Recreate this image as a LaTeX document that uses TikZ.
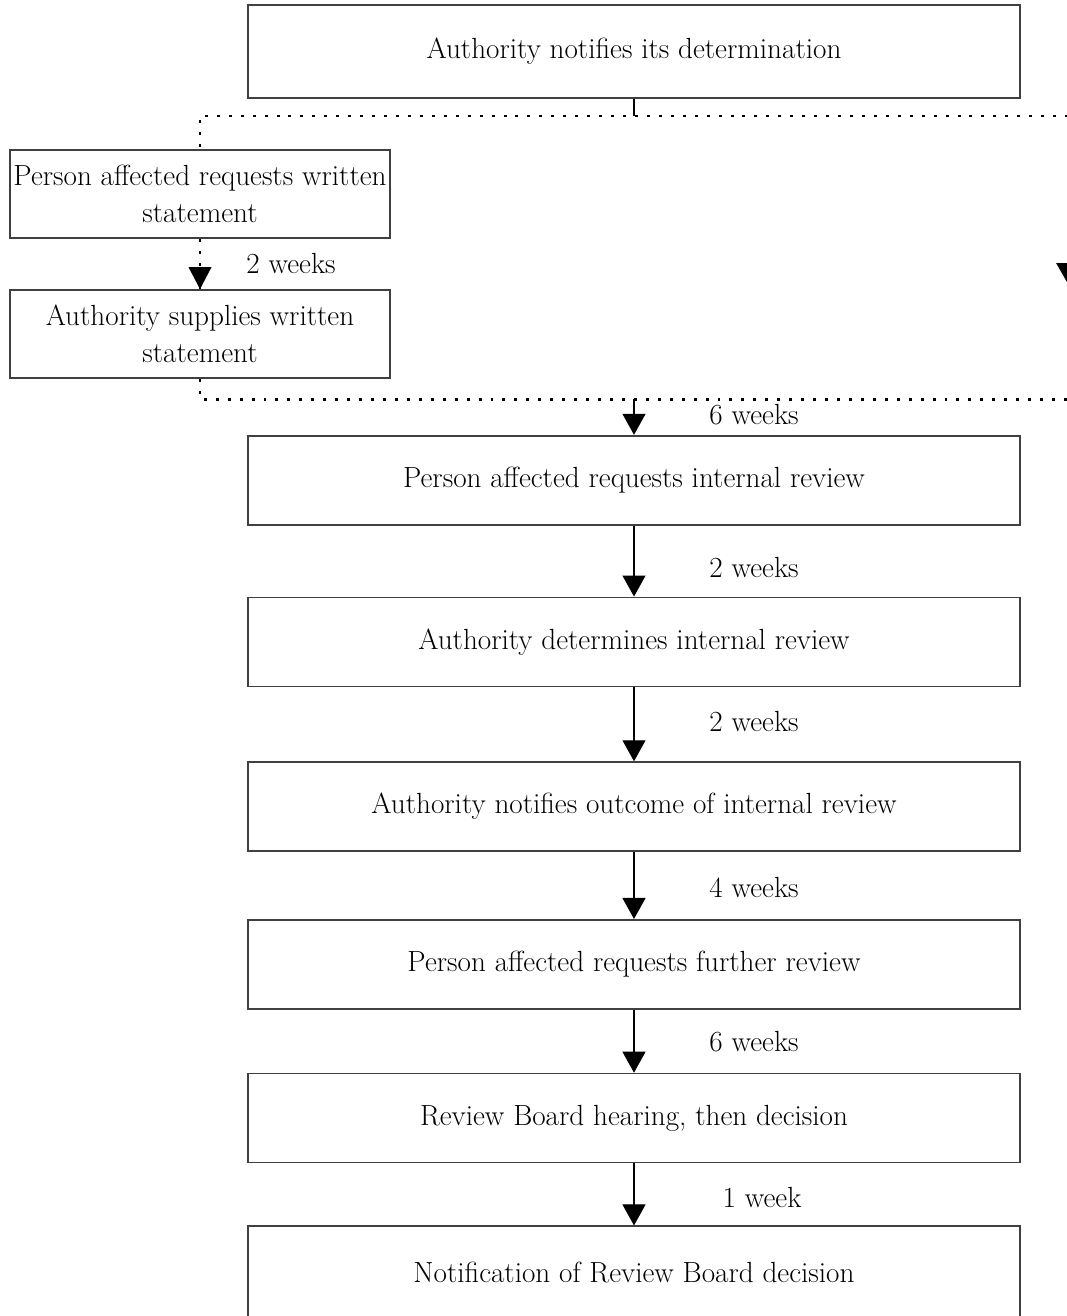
\documentclass[tikz,border=0pt]{standalone}
\usepackage{tikz}
\usetikzlibrary{arrows.meta, chains, positioning}
\usepackage{xcolor}

\begin{document}
\begin{tikzpicture}[
            x=0.02cm, y=-0.02cm,
            font=\fontsize{16.6}{21}\selectfont,
            node distance= 1.4cm,
            start chain = R going below,
            block/.style = {rectangle, draw=black!75, line width=1pt, minimum height=1.78cm, minimum width=15.44cm, align=center, on chain},
            sideblock/.style = {rectangle, draw=black!75, line width=1pt, minimum height=1.76cm, minimum width=7.6cm, inner xsep=1pt, align=center},
            weeks/.style = {inner sep=0pt},
            arrow/.style = {-{Triangle[width=4.6mm, length=4.2mm]}, line width=0.6pt},
            dots/.style = {line width=1.7pt, dash pattern=on 1.7pt off 5.1pt}]
            \useasboundingbox (0,0) rectangle (1066,1316);
            % nodes
            \node [block, minimum height=1.86cm] at (634,51.5) {Authority notifies its determination};   % R-1
            \node [block, below=6.72cm of R-1] {Person affected requests internal review};
            \node [block, below=1.42cm of R-2] {Authority determines internal review};
            \node [block, below=1.48cm of R-3] {Authority notifies outcome of internal review};
            \node [block, below=1.34cm of R-4] {Person affected requests further review};
            \node [block, below=1.26cm of R-5] {Review Board hearing, then decision};
            \node [block, below=1.24cm of R-6, minimum height=1.86cm] {Notification of Review Board decision};
            \node (L-1) [sideblock] at (200,194) {Person affected requests written\\statement};
            \node (L-2) [sideblock] at (200,334) {Authority supplies written\\statement};
            % branch lines
            \coordinate (tl) at (L-1.north |- 0,116);
            \coordinate (tr) at (1080,116);
            \coordinate (bl) at (L-2.south |- 0,399);
            \coordinate (br) at (1080,399);
            \coordinate (rt) at (1068,230);
            \coordinate (rb) at (1068,284);
            % Connections
            \draw [line width=0.6pt] (R-1.south) -- (R-1.south |- tl);
            \draw [dots] (tr) -- (tl) -- (L-1.north);
            \draw [dots] (L-1.south) -- (L-2.north);
            \fill (L-2.north) -- ++(-11.5,-22) -- ++(23,0) -- cycle;
            \draw [dots, -{Triangle[width=4.6mm, length=4.2mm]}] (rt) -- (rb);
            \draw [dots] (L-2.south) -- (bl) -- (br);
            \draw [arrow] (R-2.north |- bl) -- (R-2.north);
            \draw [arrow] (R-2.south) -- (R-3.north);
            \draw [arrow] (R-3.south) -- (R-4.north);
            \draw [arrow] (R-4.south) -- (R-5.north);
            \draw [arrow] (R-5.south) -- (R-6.north);
            \draw [arrow] (R-6.south) -- (R-7.north);
            % Text
            \node (w0) [weeks] at (291,263) {2 weeks};
            \node (w1) [weeks] at (754,415) {6 weeks};
            \node (w2) [weeks] at (754,567) {2 weeks};
            \node (w3) [weeks] at (754,721) {2 weeks};
            \node (w4) [weeks] at (754,887) {4 weeks};
            \node (w5) [weeks] at (754,1042) {6 weeks};
            \node (w6) [weeks] at (762,1197) {1 week};
        \end{tikzpicture}
\end{document}
